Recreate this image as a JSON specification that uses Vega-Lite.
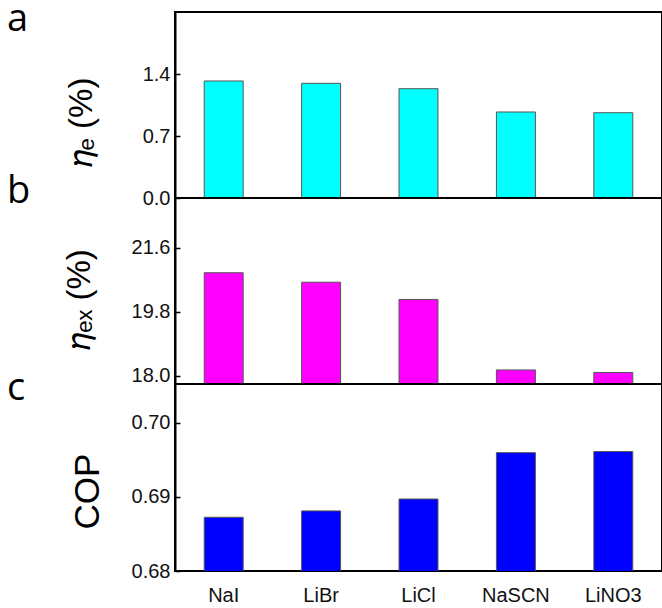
{
  "$schema": "https://vega.github.io/schema/vega-lite/v6.json",
  "padding": {"left": 6, "top": 0, "right": 0, "bottom": 0},
  "data": {"values": [
    {"salt": "NaI", "ne": 1.321, "nex": 20.90, "cop": 0.68724},
    {"salt": "LiBr", "ne": 1.295, "nex": 20.635, "cop": 0.6881},
    {"salt": "LiCl", "ne": 1.234, "nex": 20.15, "cop": 0.6897},
    {"salt": "NaSCN", "ne": 0.971, "nex": 18.17, "cop": 0.69595},
    {"salt": "LiNO3", "ne": 0.963, "nex": 18.10, "cop": 0.6961}
  ]},
  "config": {
    "view": {"stroke": "#000", "strokeWidth": 2},
    "font": "Liberation Sans",
    "axis": {"labelFont": "Liberation Sans", "labelFontSize": 20, "labelColor": "#111", "titleFont": "Liberation Sans", "titleFontWeight": "normal", "titleColor": "#000", "grid": false, "domainColor": "#000", "domainWidth": 2, "tickColor": "#000", "tickWidth": 1.5},
    "title": {"font": "Open Sans", "fontSize": 38, "fontWeight": "normal", "anchor": "start", "frame": "group", "baseline": "alphabetic", "offset": 0, "color": "#000"}
  },
  "spacing": 0,
  "bounds": "flush",
  "vconcat": [
    {
      "width": 487, "height": 186,
      "title": {"text": "a", "dx": -168, "dy": 31},
      "mark": {"type": "bar", "width": {"band": 0.4}, "color": "#00FFFF", "stroke": "#555", "strokeWidth": 1, "clip": true},
      "encoding": {
        "x": {"field": "salt", "type": "nominal", "sort": null, "scale": {"paddingInner": 0, "paddingOuter": 0}, "axis": null},
        "y": {"field": "ne", "type": "quantitative", "scale": {"domain": [0, 2.1], "nice": false, "zero": false},
              "axis": {"values": [0, 0.7, 1.4], "format": ".1f", "title": "𝜂ₑ (%)", "titleFontSize": 33, "titleY": 110, "tickSize": -5, "labelPadding": 10, "titlePadding": 44}}
      }
    },
    {
      "width": 487, "height": 186,
      "title": {"text": "b", "dx": -168, "dy": 17},
      "mark": {"type": "bar", "width": {"band": 0.4}, "color": "#FF00FF", "stroke": "#555", "strokeWidth": 1, "clip": true},
      "encoding": {
        "x": {"field": "salt", "type": "nominal", "sort": null, "scale": {"paddingInner": 0, "paddingOuter": 0}, "axis": null},
        "y": {"field": "nex", "type": "quantitative", "scale": {"domain": [17.775, 23.0], "nice": false, "zero": false},
              "axis": {"values": [18.0, 19.8, 21.6], "format": ".1f", "title": "𝜂ₑₓ (%)", "titleFontSize": 33, "titleY": 101, "tickSize": -5, "labelPadding": 10, "titlePadding": 35}}
      }
    },
    {
      "width": 487, "height": 187,
      "title": {"text": "c", "dx": -168, "dy": 28},
      "mark": {"type": "bar", "width": {"band": 0.4}, "color": "#0000FF", "stroke": "#555", "strokeWidth": 1, "clip": true},
      "encoding": {
        "x": {"field": "salt", "type": "nominal", "sort": null, "scale": {"paddingInner": 0, "paddingOuter": 0},
              "axis": {"title": null, "ticks": false, "domain": false, "labelAngle": 0, "labelFontSize": 20, "labelPadding": 14}},
        "y": {"field": "cop", "type": "quantitative", "scale": {"domain": [0.68, 0.7052], "nice": false, "zero": false},
              "axis": {"values": [0.68, 0.69, 0.70], "format": ".2f", "title": "COP", "titleFontSize": 35, "titleY": 107, "tickSize": -5, "labelPadding": 10, "titlePadding": 26}}
      }
    }
  ]
}
